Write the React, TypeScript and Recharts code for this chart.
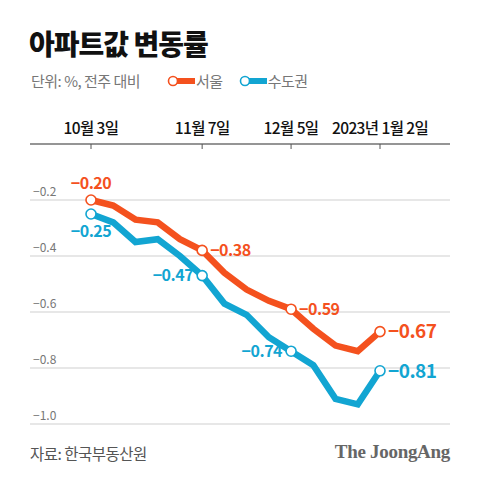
import { CartesianGrid, LabelList, Line, LineChart, XAxis, YAxis } from 'recharts';

const dates = [
  '10월 3일', '10월 10일', '10월 17일', '10월 24일', '10월 31일',
  '11월 7일', '11월 14일', '11월 21일', '11월 28일',
  '12월 5일', '12월 12일', '12월 19일', '12월 26일',
  '2023년 1월 2일',
];
const seoul = [-0.2, -0.22, -0.27, -0.28, -0.34, -0.38, -0.46, -0.52, -0.56, -0.59, -0.66, -0.72, -0.74, -0.67];
const capital = [-0.25, -0.28, -0.35, -0.34, -0.4, -0.47, -0.57, -0.61, -0.69, -0.74, -0.79, -0.91, -0.93, -0.81];
const shownDates = ['10월 3일', '11월 7일', '12월 5일', '2023년 1월 2일'];
const yTicks = [-0.2, -0.4, -0.6, -0.8, -1.0];

const data = dates.map((date, i) => ({ date, seoul: seoul[i], capital: capital[i] }));

const ORANGE = '#f4511e';
const BLUE = '#12a5d2';
const FONT = '"Noto Sans CJK KR", "Noto Sans", sans-serif';
const AXIS_Y = 144;
const PLOT_LEFT = 30;
const marked = new Set([0, 5, 9, 13]);

const fmt = (v: number, digits: number) => '−' + Math.abs(v).toFixed(digits);

// where each value label sits around its marker
type Place = 'top' | 'bottom' | 'left' | 'right';
const seoulPlace: Record<number, Place> = { 0: 'top', 5: 'right', 9: 'right', 13: 'right' };
const capitalPlace: Record<number, Place> = { 0: 'bottom', 5: 'left', 9: 'left', 13: 'right' };

function makeDot(color: string) {
  return (props: any) => {
    const { cx, cy, index } = props;
    if (!marked.has(index)) return <g key={`d${index}`} />;
    return <circle key={`d${index}`} cx={cx} cy={cy} r={5} fill="#fff" stroke={color} strokeWidth={1.6} />;
  };
}

function makeLabel(color: string, places: Record<number, Place>) {
  return (props: any) => {
    const { x, y, value, index } = props;
    const place = places[index];
    if (!place) return null;
    const last = index === dates.length - 1;
    const size = last ? 19 : 16;
    let tx = x;
    let ty = y;
    let anchor: 'start' | 'middle' | 'end' = 'middle';
    if (place === 'top') ty = y - 11;
    if (place === 'bottom') ty = y + 23;
    if (place === 'right') { tx = x + 8; ty = y + size * 0.36; anchor = 'start'; }
    if (place === 'left') { tx = x - 9; ty = y + size * 0.36; anchor = 'end'; }
    return (
      <text x={tx} y={ty} textAnchor={anchor} fill={color} fontSize={size} fontWeight={700} fontFamily={FONT} letterSpacing={-0.5}>
        {fmt(value, 2)}
      </text>
    );
  };
}

function DateTick(props: any) {
  const { x, payload } = props;
  if (!shownDates.includes(payload.value)) return <g />;
  return (
    <g>
      <line x1={x} x2={x} y1={AXIS_Y} y2={AXIS_Y + 5} stroke="#555" strokeWidth={1} />
      <text x={x} y={AXIS_Y - 10} textAnchor="middle" fill="#111" fontSize={15.5} fontWeight={500} fontFamily={FONT} letterSpacing={-0.6}>
        {payload.value}
      </text>
    </g>
  );
}

function ValueTick(props: any) {
  const { y, payload } = props;
  return (
    <text x={PLOT_LEFT + 3} y={y - 4} textAnchor="start" fill="#777" fontSize={12} fontFamily={FONT}>
      {fmt(payload.value, 1)}
    </text>
  );
}

function LegendItem({ color, label }: { color: string; label: string }) {
  return (
    <span style={{ display: 'inline-flex', alignItems: 'center', marginRight: 16 }}>
      <svg width={28} height={12}>
        <line x1={8} x2={28} y1={6} y2={6} stroke={color} strokeWidth={6} />
        <circle cx={6} cy={6} r={4.5} fill="#fff" stroke={color} strokeWidth={1.6} />
      </svg>
      <span style={{ marginLeft: 1 }}>{label}</span>
    </span>
  );
}

export default function App() {
  return (
    <div style={{ position: 'absolute', left: 0, top: 0, width: 480, height: 482, background: '#fff', fontFamily: FONT, overflow: 'hidden' }}>
      <div style={{ position: 'absolute', left: 29, top: 23, fontSize: 28, fontWeight: 900, color: '#111', letterSpacing: -1 }}>
        아파트값 변동률
      </div>
      <div style={{ position: 'absolute', left: 31, top: 70, fontSize: 15, color: '#777', letterSpacing: -0.5, display: 'flex', alignItems: 'center' }}>
        <span style={{ marginRight: 27 }}>단위: %, 전주 대비</span>
        <LegendItem color={ORANGE} label="서울" />
        <LegendItem color={BLUE} label="수도권" />
      </div>
      <div style={{ position: 'absolute', left: 0, top: 0 }}>
        <LineChart width={480} height={482} data={data} margin={{ top: AXIS_Y - 30, right: 30, bottom: 58, left: 0 }}>
          <CartesianGrid horizontal vertical={false} stroke="#cfcfcf" strokeWidth={1} />
          <XAxis
            dataKey="date"
            orientation="top"
            height={30}
            interval={0}
            padding={{ left: 61, right: 70 }}
            axisLine={{ stroke: '#444', strokeWidth: 1.2 }}
            tickLine={false}
            tick={<DateTick />}
          />
          <YAxis
            type="number"
            domain={[-1, 0]}
            ticks={yTicks}
            width={PLOT_LEFT}
            axisLine={false}
            tickLine={false}
            tick={<ValueTick />}
            allowDataOverflow
          />
          <Line
            type="linear"
            dataKey="seoul"
            stroke={ORANGE}
            strokeWidth={6.5}
            dot={makeDot(ORANGE)}
            activeDot={false}
            isAnimationActive={false}
          >
            <LabelList dataKey="seoul" content={makeLabel(ORANGE, seoulPlace)} />
          </Line>
          <Line
            type="linear"
            dataKey="capital"
            stroke={BLUE}
            strokeWidth={6.5}
            dot={makeDot(BLUE)}
            activeDot={false}
            isAnimationActive={false}
          >
            <LabelList dataKey="capital" content={makeLabel(BLUE, capitalPlace)} />
          </Line>
        </LineChart>
      </div>
      <div style={{ position: 'absolute', left: 30, top: 442, fontSize: 15.5, color: '#555', letterSpacing: -0.5 }}>
        자료: 한국부동산원
      </div>
      <div style={{ position: 'absolute', right: 30, top: 441, fontSize: 19, fontWeight: 700, color: '#666', fontFamily: '"Liberation Serif", "DejaVu Serif", serif', letterSpacing: -0.3 }}>
        The JoongAng
      </div>
    </div>
  );
}
